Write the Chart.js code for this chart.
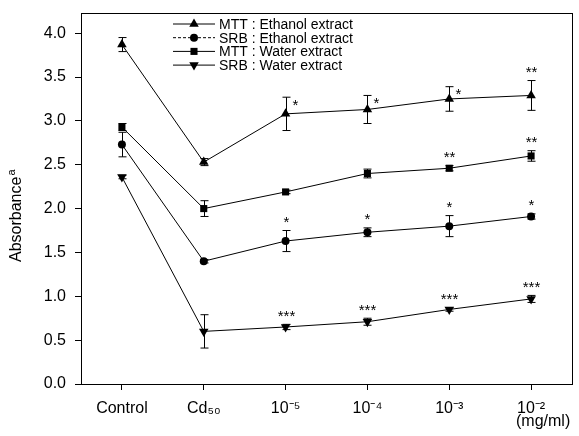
<!DOCTYPE html>
<html>
<head>
<meta charset="utf-8">
<script src="https://cdn.jsdelivr.net/npm/chart.js@4.4.0/dist/chart.umd.min.js"></script>
<style>
  html, body { margin: 0; padding: 0; background: #fff; }
  #chart { display: block; }
</style>
</head>
<body>
<canvas id="chart" width="579" height="436"></canvas>
<script>
// === Data ===
const categories = ["Control", "Cd\u2085\u2080", "10\u207B\u2075", "10\u207B\u2074", "10\u207B\u00B3", "10\u207B\u00B2"];
const yTicks = [0, 0.5, 1.0, 1.5, 2.0, 2.5, 3.0, 3.5, 4.0];

const mttEthanol    = [3.87, 2.53, 3.08, 3.13, 3.25, 3.29];
const mttEthanolErr = [0.08, 0.04, 0.19, 0.16, 0.14, 0.17];
const mttEthanolSig = ["", "", "*", "*", "*", "**"];

const srbEthanol    = [2.73, 1.40, 1.63, 1.73, 1.80, 1.91];
const srbEthanolErr = [0.14, 0.02, 0.12, 0.05, 0.12, 0.03];
const srbEthanolSig = ["", "", "*", "*", "*", "*"];

const mttWater    = [2.93, 2.00, 2.19, 2.40, 2.46, 2.60];
const mttWaterErr = [0.04, 0.09, 0.02, 0.05, 0.03, 0.06];
const mttWaterSig = ["", "", "", "", "**", "**"];

const srbWater    = [2.36, 0.60, 0.65, 0.71, 0.85, 0.97];
const srbWaterErr = [0.02, 0.19, 0.03, 0.04, 0.02, 0.04];
const srbWaterSig = ["", "", "***", "***", "***", "***"];

const FONT = '"Liberation Sans", Arial, sans-serif';
Chart.defaults.font.family = FONT;
Chart.defaults.color = "#000";

function series(label, data, err, sig, sigSide, style, rotation, radius, legendDash) {
  return {
    label, data, err, sig, sigSide, legendDash,
    borderColor: "#000", backgroundColor: "#000",
    borderWidth: 1, tension: 0,
    pointStyle: style, pointRotation: rotation, pointRadius: radius,
    pointBorderWidth: 0, pointBackgroundColor: "#000"
  };
}

const datasets = [
  series("MTT : Ethanol extract", mttEthanol, mttEthanolErr, mttEthanolSig,
         ["", "", "right", "right", "right", "top"], "triangle", 0, 5.5, []),
  series("SRB : Ethanol extract", srbEthanol, srbEthanolErr, srbEthanolSig,
         null, "circle", 0, 4, [3, 2]),
  series("MTT : Water extract", mttWater, mttWaterErr, mttWaterSig,
         null, "rect", 0, 5, []),
  series("SRB : Water extract", srbWater, srbWaterErr, srbWaterSig,
         null, "triangle", 180, 5.5, [])
];

// === Helpers ===
function drawMarker(ctx, style, rot, r, x, y) {
  ctx.beginPath();
  if (style === "circle") {
    ctx.arc(x, y, r, 0, Math.PI * 2);
  } else if (style === "rect") {
    const s = r * Math.SQRT1_2;
    ctx.rect(x - s, y - s, 2 * s, 2 * s);
  } else {
    const d = rot === 180 ? -1 : 1;
    ctx.moveTo(x, y - d * r);
    ctx.lineTo(x - r * 0.866, y + d * r * 0.5);
    ctx.lineTo(x + r * 0.866, y + d * r * 0.5);
    ctx.closePath();
  }
  ctx.fill();
}

// === Plugin: error bars, asterisks, frame, legend, axis titles ===
const extras = {
  id: "extras",
  afterDatasetsDraw(chart) {
    const { ctx, scales: { x, y } } = chart;
    ctx.save();
    ctx.strokeStyle = "#000";
    ctx.fillStyle = "#000";
    ctx.lineWidth = 1;
    chart.data.datasets.forEach(ds => {
      ds.data.forEach((v, i) => {
        const px = Math.round(x.getPixelForValue(i)) + 0.5;
        const top = y.getPixelForValue(v + ds.err[i]);
        const bot = y.getPixelForValue(v - ds.err[i]);
        ctx.beginPath();
        ctx.moveTo(px, top); ctx.lineTo(px, bot);
        ctx.moveTo(px - 4, top); ctx.lineTo(px + 4, top);
        ctx.moveTo(px - 4, bot); ctx.lineTo(px + 4, bot);
        ctx.stroke();

        const s = ds.sig[i];
        if (!s) return;
        ctx.font = "15px " + FONT;
        ctx.textBaseline = "alphabetic";
        const side = ds.sigSide ? ds.sigSide[i] : "top";
        if (side === "right") {
          ctx.textAlign = "left";
          ctx.fillText(s, px + 6, top + 4 + 8.5);
        } else {
          ctx.textAlign = "center";
          ctx.fillText(s, px, top - 12 + 8.5);
        }
      });
    });
    ctx.restore();
  },
  afterDraw(chart) {
    const { ctx, chartArea: a } = chart;
    ctx.save();
    ctx.strokeStyle = "#000";
    ctx.lineWidth = 1;
    ctx.strokeRect(Math.round(a.left) + 0.5, Math.round(a.top) + 0.5,
                   Math.round(a.right - a.left), Math.round(a.bottom - a.top));

    // legend
    ctx.font = "14px " + FONT;
    ctx.textBaseline = "middle";
    ctx.textAlign = "left";
    chart.data.datasets.forEach((ds, k) => {
      const ly = 24 + k * 13.7;
      ctx.setLineDash(ds.legendDash);
      ctx.beginPath();
      ctx.moveTo(173, ly); ctx.lineTo(215, ly);
      ctx.stroke();
      ctx.setLineDash([]);
      ctx.fillStyle = "#000";
      drawMarker(ctx, ds.pointStyle, ds.pointRotation, ds.pointRadius, 194, ly);
      ctx.fillText(ds.label, 219, ly + 1);
    });

    // y title with superscript
    ctx.translate(17, 262);
    ctx.rotate(-Math.PI / 2);
    ctx.font = "16px " + FONT;
    ctx.textBaseline = "middle";
    ctx.fillText("Absorbance", 0, 0);
    const w = ctx.measureText("Absorbance").width;
    ctx.font = "11px " + FONT;
    ctx.fillText("a", w + 1, -5);
    ctx.restore();

    // x unit
    ctx.save();
    ctx.font = "16px " + FONT;
    ctx.fillStyle = "#000";
    ctx.textBaseline = "middle";
    ctx.textAlign = "left";
    ctx.fillText("(mg/ml)", 516, 422);
    ctx.restore();
  }
};

// === Chart ===
new Chart(document.getElementById("chart"), {
  type: "line",
  data: { labels: categories, datasets },
  options: {
    responsive: false,
    animation: false,
    devicePixelRatio: 1,
    layout: { padding: { top: 13, right: 7, left: 0, bottom: 0 } },
    plugins: { legend: { display: false }, tooltip: { enabled: false } },
    scales: {
      x: {
        type: "category",
        offset: true,
        grid: { offset: false, drawOnChartArea: false, drawTicks: true, tickLength: 6, color: "#000" },
        border: { display: true, color: "#000", width: 1 },
        ticks: { font: { size: 16 }, color: "#000", padding: 9, maxRotation: 0, autoSkip: false },
        afterFit(scale) { scale.height = 52; }
      },
      y: {
        min: 0,
        max: 4.23,
        grid: { drawOnChartArea: false, drawTicks: true, tickLength: 6, color: "#000" },
        border: { display: true, color: "#000", width: 1 },
        ticks: {
          stepSize: 0.5,
          includeBounds: false,
          font: { size: 16 },
          color: "#000",
          padding: 9,
          callback: v => yTicks.includes(v) ? v.toFixed(1) : null
        },
        afterFit(scale) {
          scale.width = 81;
          scale.paddingTop = 0;
          scale.paddingBottom = 0;
        }
      }
    }
  },
  plugins: [extras]
});
</script>
</body>
</html>
